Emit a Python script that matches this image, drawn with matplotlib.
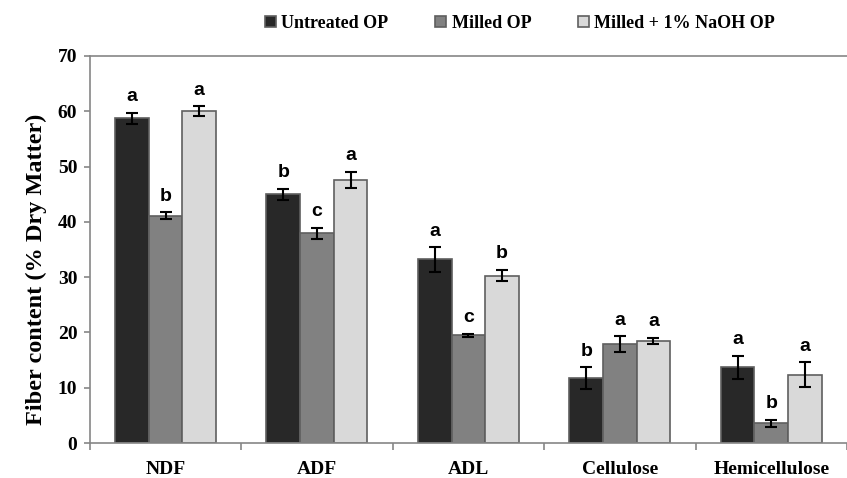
import matplotlib.pyplot as plt
import numpy as np

# -----------------------------
# Data
# -----------------------------
categories = ["NDF", "ADF", "ADL", "Cellulose", "Hemicellulose"]
series_names = ["Untreated OP", "Milled OP", "Milled + 1% NaOH OP"]

untreated = [58.7, 45.0, 33.2, 11.7, 13.7]
untreated_err = [1.0, 1.0, 2.2, 2.0, 2.1]
untreated_sig = ["a", "b", "a", "b", "a"]

milled = [41.1, 37.9, 19.5, 17.9, 3.6]
milled_err = [0.6, 1.0, 0.3, 1.4, 0.6]
milled_sig = ["b", "c", "c", "a", "b"]

naoh = [60.0, 47.6, 30.3, 18.5, 12.4]
naoh_err = [0.9, 1.5, 1.0, 0.5, 2.2]
naoh_sig = ["a", "a", "b", "a", "a"]

yticks = [0, 10, 20, 30, 40, 50, 60, 70]

# -----------------------------
# Plot
# -----------------------------
colors = ["#282828", "#818181", "#d9d9d9"]
edge = "#5f5f5f"
serif = ["Liberation Serif", "DejaVu Serif"]
sans = ["Liberation Sans", "DejaVu Sans"]

fig = plt.figure(figsize=(8.47, 4.78), dpi=100)
ax = fig.add_axes([0.106, 0.073, 0.894, 0.81])

x = np.arange(len(categories))
w = 1 / 4.5
all_vals = [untreated, milled, naoh]
all_errs = [untreated_err, milled_err, naoh_err]
all_sigs = [untreated_sig, milled_sig, naoh_sig]

handles = []
for i in range(3):
    pos = x + (i - 1) * w
    b = ax.bar(pos, all_vals[i], w, color=colors[i], edgecolor=edge, linewidth=1.2,
               label=series_names[i], zorder=2)
    handles.append(b)
    ax.errorbar(pos, all_vals[i], yerr=all_errs[i], fmt="none", ecolor="black",
                elinewidth=1.5, capsize=4, capthick=1.5, zorder=3)
    for p, v, e, s in zip(pos, all_vals[i], all_errs[i], all_sigs[i]):
        ax.text(p, v + e + 1.4, s, ha="center", va="bottom", fontsize=14,
                fontweight="bold", family=sans)

ax.set_xlim(-0.5, len(categories) - 0.5)
ax.set_ylim(0, 70)
ax.set_yticks(yticks)
ax.set_yticklabels([str(t) for t in yticks], fontsize=14, fontweight="bold", family=serif)

ax.set_xticks(x)
ax.set_xticklabels(categories, fontsize=14, fontweight="bold", family=serif)
ax.tick_params(axis="x", length=0, pad=13)
ax.set_xticks(np.arange(len(categories) + 1) - 0.5, minor=True)
ax.tick_params(axis="x", which="minor", length=5, color="#868686", width=1.2)
ax.tick_params(axis="y", length=4, color="#868686", width=1.2, pad=5)

for s in ["left", "bottom", "top"]:
    ax.spines[s].set_color("#868686")
    ax.spines[s].set_linewidth(1.2)
ax.spines["right"].set_visible(False)

ax.set_ylabel("Fiber content (% Dry Matter)", fontsize=17.5, fontweight="bold",
              family=serif)
ax.yaxis.set_label_coords(-0.056, 0.45)

fig.legend(handles=handles, labels=series_names, loc="upper center",
           bbox_to_anchor=(0.614, 1.003), ncol=3, frameon=False,
           prop={"family": serif, "weight": "bold", "size": 13},
           handlelength=0.6, handleheight=0.6, handletextpad=0.3, columnspacing=2.6)

plt.savefig("out.png", dpi=100)
